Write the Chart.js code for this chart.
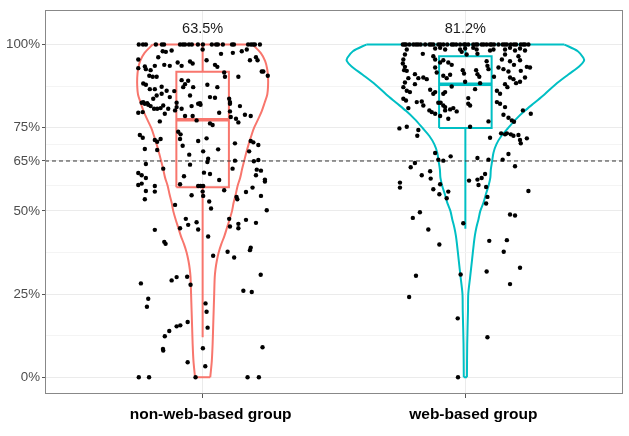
<!DOCTYPE html>
<html><head><meta charset="utf-8">
<script src="https://cdn.jsdelivr.net/npm/chart.js@4.4.1/dist/chart.umd.min.js"></script>
<style>html,body{margin:0;padding:0;background:#fff;}</style>
</head><body>
<canvas id="c" width="629" height="436"></canvas>
<script>
// ---------- data ----------
const categories = ['non-web-based group', 'web-based group'];
const groupColors = ['#F8766D', '#00BFC4'];
const pctLabels = ['63.5%', '81.2%'];
const threshold = 65;
const yTickValues = [0, 25, 50, 65, 75, 100];
const yMinorValues = [12.5, 37.5, 57.5, 70, 87.5];

const boxQ1 = [57.1, 74.9];
const boxMedian = [77.4, 88.1];
const boxQ3 = [91.8, 96.5];
const whiskerLow = [12.0, 44.6];
const whiskerHigh = [100, 100];

const nonWebViolinY = [0,5,10,15,20,25,30,32.5,35,37.5,40,42.5,45,47.5,50,52.5,55,57.5,60,62.5,65,67.5,70,72.5,75,77.5,80,82.5,85,87.5,90,92.5,95,97.5,100];
const nonWebViolinHalfWidth = [0.029,0.035,0.038,0.040,0.042,0.044,0.046,0.049,0.054,0.061,0.071,0.083,0.093,0.103,0.112,0.118,0.126,0.133,0.143,0.150,0.158,0.166,0.175,0.185,0.196,0.211,0.225,0.236,0.246,0.249,0.249,0.246,0.238,0.221,0.190];

const webViolinY = [0,10,20,25,30,35,40,42.5,45,47.5,50,52.5,55,57.5,60,62.5,65,67.5,70,72.5,75,77.5,80,82.5,85,88,91,93.5,95,96,98,100];
const webViolinHalfWidth = [0.006,0.007,0.010,0.011,0.018,0.025,0.032,0.036,0.042,0.050,0.057,0.069,0.078,0.088,0.095,0.097,0.102,0.107,0.118,0.137,0.164,0.192,0.225,0.263,0.301,0.343,0.392,0.434,0.451,0.449,0.428,0.377];

// jittered points: [horizontal jitter, score %]
const nonWebPoints = [
[-0.243,100],[-0.227,100],[-0.216,100],[-0.178,100],[-0.155,100],[-0.147,100],[-0.086,100],[-0.075,100],[-0.067,100],[-0.052,100],[-0.041,100],[-0.018,100],[0.001,100],[0.035,100],[0.051,100],[0.058,100],[0.077,100],[0.112,100],[0.119,100],[0.173,100],[0.184,100],[0.192,100],[0.199,100],[0.218,100],
[-0.152,98.0],[-0.140,97.8],[-0.118,98.2],[0.0,98.5],[0.070,97.2],[0.115,97.5],[0.149,98.0],[0.168,98.5],[0.203,96.2],[0.209,95.3],[0.180,95.3],[-0.245,95.5],[-0.169,96.2],
[-0.182,93.6],[-0.146,93.9],[-0.125,93.6],[-0.095,94.6],[-0.080,93.6],[-0.048,94.9],[-0.038,94.3],[0.015,95.3],[0.047,93.9],[0.056,93.3],[-0.220,93.4],[-0.216,92.6],[-0.245,92.9],[-0.198,92.3],
[-0.203,90.6],[-0.190,90.3],[-0.175,90.3],[-0.226,88.3],[-0.216,87.9],[-0.201,86.6],[-0.182,86.6],[-0.156,87.3],[-0.137,86.1],[-0.108,86.0],[-0.125,84.2],[-0.156,85.2],[-0.175,84.7],[-0.188,83.7],[-0.226,82.7],[-0.211,82.4],
[-0.080,89.3],[-0.067,88.1],[-0.055,89.1],[-0.074,87.2],[-0.036,87.2],[-0.048,84.7],[0.018,87.9],[0.056,87.2],[0.028,84.2],[0.047,84.0],[-0.010,82.4],[0.082,91.6],[0.085,90.3],[0.101,83.7],[0.104,82.7],[0.136,90.3],[0.225,91.9],[0.231,91.9],[0.248,90.6],
[-0.232,82.5],[-0.220,82.2],[-0.207,81.9],[-0.198,81.5],[-0.185,80.7],[-0.173,80.7],[-0.160,80.9],[-0.150,81.7],[-0.245,79.5],[-0.228,79.7],[-0.163,76.9],[-0.144,79.2],[-0.131,80.7],[-0.105,80.2],[-0.099,81.2],[-0.099,82.5],[-0.080,80.7],[-0.067,78.5],[-0.042,81.5],[-0.038,78.5],[-0.017,82.2],[-0.008,81.9],[-0.023,77.2],[0.028,76.3],[0.038,75.8],[0.063,79.5],[0.104,82.2],[0.104,79.9],[0.107,78.2],[0.127,77.7],[0.136,76.6],[0.142,81.5],[0.161,78.9],[0.183,78.5],
[-0.239,72.8],[-0.228,72.0],[-0.182,71.3],[-0.173,70.8],[-0.160,71.6],[-0.220,68.6],[-0.173,68.3],[-0.093,73.8],[-0.084,73.0],[-0.086,71.6],[-0.076,69.6],[-0.017,71.0],[0.015,71.8],[0.002,67.9],[0.059,68.5],[-0.051,66.9],[0.021,65.7],[0.018,64.7],[0.123,70.3],[0.183,71.0],[0.193,70.6],[0.212,69.8],[0.177,67.9],
[-0.216,64.1],[-0.150,62.7],[-0.048,63.9],[0.123,65.1],[0.114,62.7],[0.195,64.9],[0.212,65.3],[0.206,62.4],[0.222,62.1],
[-0.245,61.4],[-0.232,60.7],[-0.216,59.9],[-0.245,57.8],[-0.232,58.2],[-0.182,57.5],[-0.182,55.8],[-0.216,56.0],[-0.220,53.5],[-0.071,60.4],[-0.086,58.0],[0.005,61.5],[0.028,61.1],[0.063,59.3],[-0.017,57.5],[-0.008,57.5],[0.002,57.5],[0.0,55.8],[0.002,54.5],[-0.042,54.7],[0.082,56.2],[0.025,52.8],[0.032,50.7],[-0.105,51.8],[0.129,54.2],[0.132,53.5],[0.165,55.7],[0.190,57.0],[0.203,60.7],[0.237,59.4],[0.237,58.8],[0.222,54.5],[0.244,50.2],
[-0.064,47.6],[-0.055,45.8],[-0.023,46.6],[-0.017,44.4],[-0.086,44.8],[0.101,47.6],[0.104,45.3],[0.136,46.1],[0.136,44.8],[0.165,47.3],[0.203,46.4],[-0.182,44.3],[0.021,42.3],
[-0.146,40.7],[-0.141,40.1],[0.040,36.5],[0.095,37.7],[0.120,36.0],[0.183,38.9],[0.180,38.2],
[-0.235,28.2],[-0.207,23.6],[-0.212,21.2],[-0.118,29.1],[-0.099,30.1],[-0.059,30.2],[-0.046,27.8],[0.221,30.8],[0.155,26.0],[0.187,25.6],
[0.011,22.2],[0.015,19.7],[0.019,14.9],[-0.057,16.6],[-0.085,15.6],[-0.099,15.3],[-0.127,13.9],[-0.144,12.3],[-0.151,8.5],[-0.150,8.0],[0.001,8.7],[-0.057,4.5],[0.010,3.3],[0.228,9.0],
[-0.243,0],[-0.204,0],[-0.027,0],[0.171,0],[0.214,0]
];

const webPoints = [
[-0.238,100],[-0.226,100],[-0.213,100],[-0.198,100],[-0.188,100],[-0.170,100],[-0.153,100],[-0.137,100],[-0.122,100],[-0.103,100],[-0.084,100],[-0.069,100],[-0.052,100],[-0.035,100],[-0.020,100],[-0.005,100],[0.011,100],[0.030,100],[0.046,100],[0.062,100],[0.081,100],[0.094,100],[0.109,100],[0.126,100],[0.142,100],[0.158,100],[0.173,100],[0.193,100],[0.211,100],[0.227,100],[0.240,100],
[-0.232,100],[-0.180,100],[-0.130,100],[-0.095,100],[-0.045,100],[0.0,100],[0.040,100],[0.070,100],[0.100,100],[0.150,100],[0.185,100],[0.220,100],
[-0.223,98.5],[-0.115,98.8],[-0.096,99.0],[-0.077,98.5],[-0.020,98.5],[-0.001,98.8],[0.030,99.0],[0.043,98.5],[0.094,98.2],[0.107,98.5],[0.151,98.5],[0.170,99.0],[0.189,98.2],[0.208,98.8],[0.227,98.2],
[-0.230,97.0],[-0.236,95.5],[-0.238,94.3],[-0.230,93.3],[-0.233,92.3],[-0.223,92.1],[-0.217,89.9],[-0.192,91.1],[-0.179,89.9],[-0.160,90.1],[-0.147,89.6],[-0.162,97.2],[-0.122,96.5],[-0.115,95.5],[-0.115,93.1],[-0.109,91.6],[-0.096,94.6],[-0.084,95.3],[-0.065,94.6],[-0.052,93.9],[-0.084,90.6],[-0.071,89.9],[-0.058,90.9],
[-0.014,97.8],[0.005,97.0],[0.046,97.2],[-0.010,92.3],[-0.005,91.3],[0.041,92.3],[0.046,91.1],[0.053,90.3],[0.081,95.0],[0.084,93.6],[0.088,92.6],[0.139,95.5],[0.151,97.0],[0.170,95.0],[0.202,96.5],[0.208,95.3],[0.126,93.1],[0.145,92.6],[0.164,91.9],[0.185,93.9],[0.211,92.1],[0.234,93.3],[0.227,90.1],[0.170,90.1],[0.183,89.6],[0.109,90.3],[0.246,93.1],
[-0.230,88.6],[-0.236,87.2],[-0.223,86.1],[-0.211,85.7],[-0.192,88.1],[-0.134,86.4],[-0.122,85.2],[-0.115,85.7],[-0.084,85.2],[-0.077,85.7],[-0.052,87.4],[-0.001,88.8],[0.056,88.4],[0.037,86.6],[0.120,86.1],[0.132,85.2],[0.151,88.1],[0.160,87.2],[0.193,88.4],[0.208,88.8],
[-0.236,83.7],[-0.226,83.2],[-0.185,82.7],[-0.166,82.9],[-0.160,81.7],[-0.217,80.9],[-0.137,80.2],[-0.128,79.7],[-0.115,79.2],[-0.103,82.5],[-0.094,82.5],[-0.084,81.7],[-0.077,81.2],[-0.077,80.2],[-0.058,80.5],[-0.046,80.9],[-0.033,79.9],[-0.096,78.5],[-0.065,77.7],[0.011,83.9],[0.011,82.2],[0.018,81.7],[0.120,82.7],[0.132,82.2],[0.151,81.2],[0.145,78.9],[0.164,78.0],[0.177,77.2],[0.185,76.8],[0.219,80.2],[0.088,76.9],[0.018,75.3],[0.249,79.2],
[-0.251,74.8],[-0.223,75.3],[-0.179,74.3],[-0.183,72.6],[0.094,72.0],[0.136,73.3],[0.151,73.0],[0.158,73.3],[0.173,73.0],[0.183,72.6],[0.202,72.8],[0.208,71.3],[0.211,70.3],[0.234,71.8],
[-0.115,67.4],[-0.103,65.4],[-0.084,65.1],[-0.056,66.4],[-0.192,64.4],[-0.208,63.1],[-0.166,60.7],[-0.134,61.9],[-0.132,59.7],[-0.249,58.5],[-0.249,57.0],[-0.122,56.5],[-0.096,58.0],[-0.099,55.0],[-0.065,55.8],[-0.071,53.8],[-0.200,47.9],[-0.173,49.6],
[0.046,65.9],[0.088,65.4],[0.142,65.4],[0.164,67.1],[0.189,63.4],[0.014,59.1],[0.046,59.4],[0.062,59.9],[0.075,61.1],[0.050,57.8],[0.079,57.2],[0.084,54.2],[0.079,52.2],[0.240,56.0],[0.170,48.9],[0.189,48.6],
[-0.141,44.4],[-0.099,39.9],[-0.008,46.3],[0.091,41.0],[0.158,41.2],[0.146,37.7],[-0.188,30.5],[-0.214,24.1],[-0.018,30.9],[0.081,31.8],[0.208,32.9],[0.170,28.0],[-0.029,17.7],[0.084,12.0],[-0.028,0]
];

// ---------- styling constants ----------
const BOX_HALF = 0.1;
const LABEL_Y = 104.8;
const FONT = '"Liberation Sans", Arial, Helvetica, sans-serif';

function lineDS(data, color, width, order, extra) {
  return Object.assign({
    type: 'scatter', data, showLine: true, borderColor: color, backgroundColor: color,
    borderWidth: width, pointRadius: 0, fill: false, order, tension: 0
  }, extra || {});
}

const datasets = [];
const groupPoints = [nonWebPoints, webPoints];
groupPoints.forEach((pts, g) => {
  datasets.push({
    type: 'scatter', data: pts.map(p => ({ x: g + 1 + p[0], y: p[1] })),
    pointRadius: 2.2, pointBorderWidth: 0, backgroundColor: '#000', borderColor: '#000', order: 0
  });
});

// dashed threshold line
datasets.push(lineDS([{ x: 0.4, y: threshold }, { x: 2.6, y: threshold }], '#333', 1, 1, { borderDash: [4, 3] }));

// boxplots
for (let g = 0; g < 2; g++) {
  const c = g + 1, col = groupColors[g];
  datasets.push(lineDS([
    { x: c - BOX_HALF, y: boxQ1[g] }, { x: c + BOX_HALF, y: boxQ1[g] },
    { x: c + BOX_HALF, y: boxQ3[g] }, { x: c - BOX_HALF, y: boxQ3[g] },
    { x: c - BOX_HALF, y: boxQ1[g] }], col, 2, 2));
  datasets.push(lineDS([{ x: c - BOX_HALF, y: boxMedian[g] }, { x: c + BOX_HALF, y: boxMedian[g] }], col, 3.5, 2));
  datasets.push(lineDS([{ x: c, y: boxQ3[g] }, { x: c, y: whiskerHigh[g] }], col, 2, 2));
  datasets.push(lineDS([{ x: c, y: boxQ1[g] }, { x: c, y: whiskerLow[g] }], col, 2, 2));
}

// violins
const violinY = [nonWebViolinY, webViolinY];
const violinHW = [nonWebViolinHalfWidth, webViolinHalfWidth];
for (let g = 0; g < 2; g++) {
  const c = g + 1, col = groupColors[g], Y = violinY[g], W = violinHW[g], n = Y.length;
  datasets.push(lineDS(Y.map((y, i) => ({ x: c - W[i], y })), col, 2, 3, { tension: 0.3 }));
  datasets.push(lineDS(Y.map((y, i) => ({ x: c + W[i], y })), col, 2, 3, { tension: 0.3 }));
  datasets.push(lineDS([{ x: c - W[n - 1], y: Y[n - 1] }, { x: c + W[n - 1], y: Y[n - 1] }], col, 2, 3));
  datasets.push(lineDS([{ x: c - W[0], y: Y[0] }, { x: c + W[0], y: Y[0] }], col, 2, 3));
}

const panelBorder = {
  id: 'panelBorder',
  afterDraw(chart) {
    const { ctx, chartArea: a } = chart;
    ctx.save();
    ctx.strokeStyle = '#888';
    ctx.lineWidth = 1;
    ctx.strokeRect(Math.round(a.left) + 0.5, Math.round(a.top) + 0.5,
      Math.round(a.right - a.left) - 1, Math.round(a.bottom - a.top) - 1);
    ctx.restore();
  }
};
const pctText = {
  id: 'pctText',
  afterDatasetsDraw(chart) {
    const { ctx, scales } = chart;
    ctx.save();
    ctx.fillStyle = '#1a1a1a';
    ctx.font = '14.5px ' + FONT;
    ctx.textAlign = 'center';
    ctx.textBaseline = 'middle';
    pctLabels.forEach((t, i) => {
      ctx.fillText(t, scales.x.getPixelForValue(i + 1), scales.y.getPixelForValue(LABEL_Y));
    });
    ctx.restore();
  }
};

new Chart(document.getElementById('c'), {
  type: 'scatter',
  data: { datasets },
  plugins: [panelBorder, pctText],
  options: {
    responsive: false, animation: false, events: [], devicePixelRatio: 1,
    layout: { padding: { left: 0, right: 6, top: 5, bottom: 0 } },
    plugins: { legend: { display: false }, tooltip: { enabled: false } },
    scales: {
      x: {
        type: 'linear', min: 0.4, max: 2.6,
        afterBuildTicks: s => { s.ticks = [{ value: 1 }, { value: 2 }]; },
        afterFit: s => { s.height = 42; },
        border: { display: false },
        grid: { color: '#EBEBEB', lineWidth: 1, drawTicks: true, tickLength: 4, tickColor: '#555' },
        ticks: {
          autoSkip: false, maxRotation: 0, padding: 7, labelOffset: 8, color: '#000',
          font: { family: FONT, size: 15.5, weight: 'bold' },
          callback: (v, i) => categories[i]
        }
      },
      y: {
        type: 'linear', min: -5.04, max: 110.39,
        afterBuildTicks: s => {
          s.ticks = yTickValues.concat(yMinorValues).sort((a, b) => a - b).map(v => ({ value: v }));
        },
        afterFit: s => { s.width = 45; },
        border: { display: false },
        grid: {
          color: c => (yTickValues.includes(c.tick.value) ? '#EBEBEB' : '#F4F4F4'),
          tickColor: c => (yTickValues.includes(c.tick.value) ? '#555' : 'rgba(0,0,0,0)'),
          lineWidth: 1, drawTicks: true, tickLength: 3
        },
        ticks: {
          autoSkip: false, padding: 2, color: '#4D4D4D',
          font: { family: FONT, size: 13.3 },
          callback: v => (yTickValues.includes(v) ? v + '%' : '')
        }
      }
    }
  }
});
</script>
</body></html>
